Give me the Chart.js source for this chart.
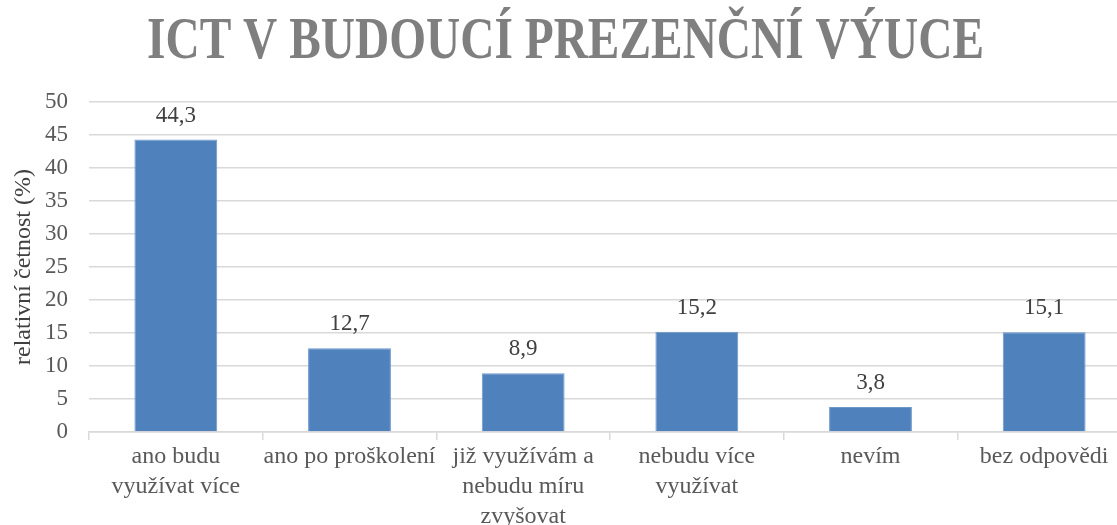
<!DOCTYPE html>
<html>
<head>
<meta charset="utf-8">
<script src="https://cdn.jsdelivr.net/npm/chart.js@4/dist/chart.umd.min.js"></script>
<style>
  html, body { margin: 0; padding: 0; overflow: hidden; background: #fff; }
  #wrap { width: 1131px; height: 525px; position: relative; }
</style>
</head>
<body>
<div id="wrap"><canvas id="myChart"></canvas></div>
<script>
// chart data
var titleText = 'ICT V BUDOUCÍ PREZENČNÍ VÝUCE';
var yTitle = 'relativní četnost (%)';
var categories = [
    ['ano budu', 'využívat více'],
    'ano po proškolení',
    ['již využívám a', 'nebudu míru', 'zvyšovat'],
    ['nebudu více', 'využívat'],
    'nevím',
    'bez odpovědi'
];
var values = [44.3, 12.7, 8.9, 15.2, 3.8, 15.1];
var yMin = 0, yMax = 50, yStep = 5;

var serif = '"Liberation Serif", "Times New Roman", serif';

// title drawn narrow like the original
var titlePlugin = {
    id: 'narrowTitle',
    afterDraw: function (chart) {
        var ctx = chart.ctx;
        ctx.save();
        ctx.font = 'bold 60px ' + serif;
        ctx.fillStyle = '#7f7f7f';
        ctx.textAlign = 'center';
        ctx.textBaseline = 'alphabetic';
        var w = ctx.measureText(titleText).width;
        ctx.translate(chart.width / 2, 58);
        ctx.scale(837 / w, 1);
        ctx.fillText(titleText, 0, 0);
        ctx.restore();
    }
};

// value labels above bars
var valuePlugin = {
    id: 'valueLabels',
    afterDatasetsDraw: function (chart) {
        var ctx = chart.ctx;
        ctx.save();
        ctx.font = '23px ' + serif;
        ctx.fillStyle = '#404040';
        ctx.textAlign = 'center';
        ctx.textBaseline = 'middle';
        chart.getDatasetMeta(0).data.forEach(function (bar, i) {
            ctx.fillText(values[i].toFixed(1).replace('.', ','), bar.x, bar.y - 24);
        });
        ctx.restore();
    }
};

var ctx = document.getElementById('myChart').getContext('2d');
var chart = new Chart(ctx, {
    type: 'bar',
    data: {
        labels: categories,
        datasets: [{
            data: values,
            backgroundColor: '#4f81bd',
            borderColor: '#6d97ca',
            borderWidth: 1,
            categoryPercentage: 1,
            barPercentage: 0.477
        }]
    },
    options: {
        responsive: true,
        maintainAspectRatio: false,
        animation: false,
        layout: { padding: { top: 102, left: 0, right: 0, bottom: 0 } },
        plugins: {
            legend: { display: false },
            tooltip: { enabled: false }
        },
        scales: {
            x: {
                offset: true,
                grid: {
                    offset: true,
                    drawOnChartArea: false,
                    color: '#d9d9d9',
                    lineWidth: 1.5,
                    tickLength: 8
                },
                border: { color: '#d9d9d9', width: 1.5 },
                ticks: {
                    color: '#595959',
                    font: { family: serif, size: 24, lineHeight: 1.27 },
                    padding: 1,
                    maxRotation: 0,
                    autoSkip: false
                },
                afterFit: function (scale) { scale.height = 93; }
            },
            y: {
                min: yMin,
                max: yMax,
                ticks: {
                    stepSize: yStep,
                    color: '#595959',
                    font: { family: serif, size: 23 },
                    padding: 21
                },
                grid: {
                    color: '#d9d9d9',
                    lineWidth: 1.5,
                    drawTicks: false
                },
                border: { display: false },
                title: {
                    display: true,
                    text: yTitle,
                    color: '#404040',
                    font: { family: serif, size: 24 },
                    padding: { top: 9, bottom: 0 }
                },
                afterFit: function (scale) { scale.width = 89; }
            }
        }
    },
    plugins: [titlePlugin, valuePlugin]
});
</script>
</body>
</html>
